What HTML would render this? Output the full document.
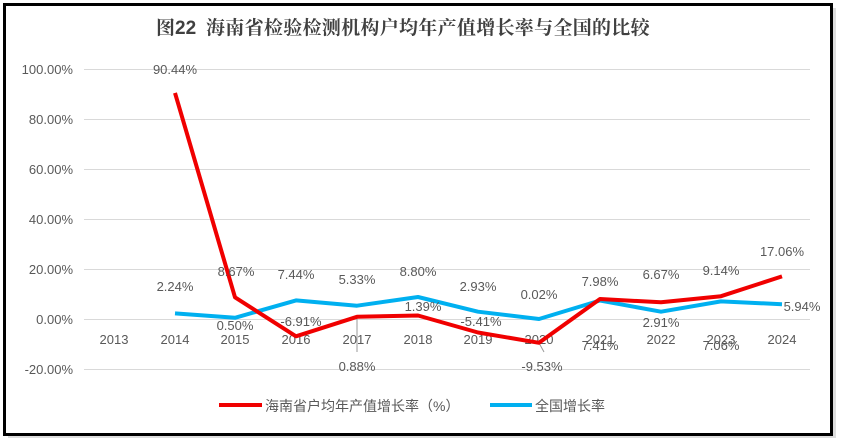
<!DOCTYPE html>
<html><head><meta charset="utf-8"><style>
html,body{margin:0;padding:0;background:#fff;}
svg{display:block;}
text{font-family:"Liberation Sans","Noto Sans CJK SC",sans-serif;fill:#595959;font-size:13px;}
.t{font-family:"Liberation Sans","Noto Serif CJK SC",serif;font-size:19px;font-weight:bold;fill:#404040}
</style></head><body>
<svg width="844" height="444" viewBox="0 0 844 444">
<rect x="8" y="8" width="828" height="430" fill="#bbb" opacity="0.5"/>
<rect x="4.5" y="4.5" width="827" height="430" fill="#fff" stroke="#000" stroke-width="3"/>
<text x="156" y="34" class="t">图22</text>
<text x="206" y="34" class="t" style="letter-spacing:0.3px">海南省检验检测机构户均年产值增长率与全国的比较</text>
<g stroke="#d9d9d9" stroke-width="1">
<line x1="84" x2="810" y1="69.5" y2="69.5"/><line x1="84" x2="810" y1="119.5" y2="119.5"/>
<line x1="84" x2="810" y1="169.5" y2="169.5"/><line x1="84" x2="810" y1="219.5" y2="219.5"/>
<line x1="84" x2="810" y1="269.5" y2="269.5"/><line x1="84" x2="810" y1="319.5" y2="319.5"/>
<line x1="84" x2="810" y1="369.5" y2="369.5"/>
</g>
<g text-anchor="end">
<text x="73" y="74">100.00%</text><text x="73" y="124">80.00%</text><text x="73" y="174">60.00%</text>
<text x="73" y="224">40.00%</text><text x="73" y="274">20.00%</text><text x="73" y="324">0.00%</text>
<text x="73" y="374">-20.00%</text>
</g>
<g text-anchor="middle">
<text x="114" y="344">2013</text><text x="175" y="344">2014</text><text x="235" y="344">2015</text>
<text x="296" y="344">2016</text><text x="357" y="344">2017</text><text x="418" y="344">2018</text>
<text x="478" y="344">2019</text><text x="539" y="344">2020</text><text x="600" y="344">2021</text>
<text x="661" y="344">2022</text><text x="721" y="344">2023</text><text x="782" y="344">2024</text>
</g>
<g stroke="#999" stroke-width="1">
<line x1="357" y1="318" x2="357" y2="352"/><line x1="539" y1="343" x2="544" y2="352"/>
</g>
<polyline fill="none" stroke="#00b0f0" stroke-width="4" stroke-linejoin="round" points="175,313.4 235,317.8 296,300.4 357,305.7 418,297 478,311.7 539,319 600,300.5 661,311.7 721,301.4 782,304.2"/>
<polyline fill="none" stroke="#f00000" stroke-width="4" stroke-linejoin="round" points="175,92.9 235,297.3 296,336.3 357,316.8 418,315.5 478,332.5 539,342.8 600,299 661,302.3 721,296.2 782,276.4"/>
<g text-anchor="middle">
<text x="175" y="74">90.44%</text><text x="175" y="291">2.24%</text>
<text x="236" y="276">8.67%</text><text x="235" y="330">0.50%</text>
<text x="296" y="279">7.44%</text><text x="301" y="326">-6.91%</text>
<text x="357" y="284">5.33%</text><text x="357" y="371">0.88%</text>
<text x="418" y="276">8.80%</text><text x="423" y="311">1.39%</text>
<text x="478" y="291">2.93%</text><text x="481" y="326">-5.41%</text>
<text x="539" y="299">0.02%</text><text x="542" y="371">-9.53%</text>
<text x="600" y="286">7.98%</text><text x="600" y="350">7.41%</text>
<text x="661" y="279">6.67%</text><text x="661" y="327">2.91%</text>
<text x="721" y="275">9.14%</text><text x="721" y="350">7.06%</text>
<text x="782" y="256">17.06%</text><text x="802" y="311">5.94%</text>
</g>
<line x1="219" y1="405" x2="262" y2="405" stroke="#f00000" stroke-width="4"/>
<text x="265" y="411" style="font-size:14px">海南省户均年产值增长率（%）</text>
<line x1="490" y1="405" x2="532" y2="405" stroke="#00b0f0" stroke-width="4"/>
<text x="535" y="411" style="font-size:14px">全国增长率</text>
</svg>
</body></html>
